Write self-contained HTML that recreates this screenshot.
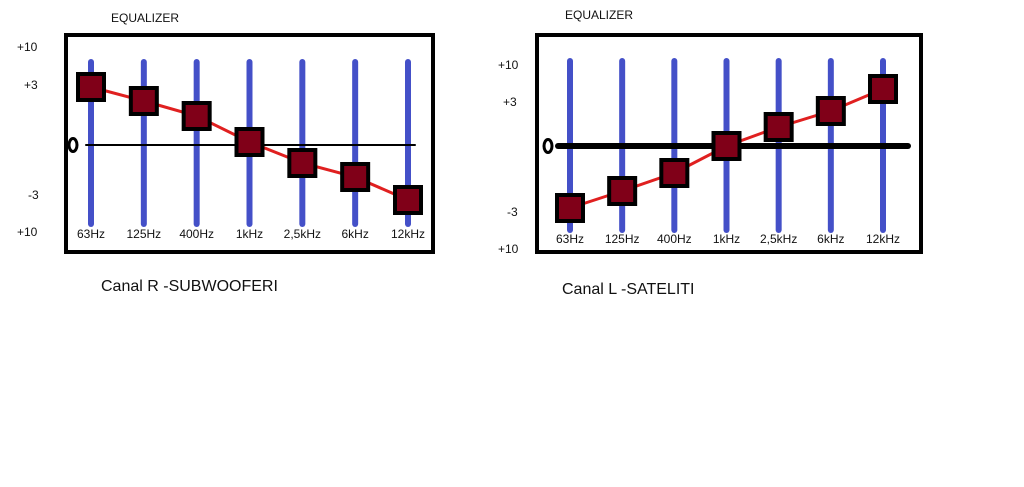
<!DOCTYPE html>
<html><head><meta charset="utf-8"><style>
html,body{margin:0;padding:0;background:#fff;width:1024px;height:487px;overflow:hidden}
svg{display:block}
text{font-family:"Liberation Sans",sans-serif;fill:#111}
</style></head><body>
<svg id="s" width="1024" height="487">
<text x="111" y="22" font-size="12">EQUALIZER</text>
<text x="565" y="19" font-size="12">EQUALIZER</text>
<rect x="66" y="35" width="367" height="217" fill="none" stroke="#000" stroke-width="4"/>
<rect x="537" y="35" width="384" height="217" fill="none" stroke="#000" stroke-width="4"/>
<text x="101" y="291" font-size="16">Canal R -SUBWOOFERI</text>
<text x="562" y="294" font-size="16">Canal L -SATELITI</text>
<g font-size="12">
<text x="17" y="51">+10</text><text x="24" y="89">+3</text><text x="28" y="199">-3</text><text x="17" y="236">+10</text>
</g>
<g font-size="12">
<text x="498" y="69">+10</text><text x="503" y="106">+3</text><text x="507" y="216">-3</text><text x="498" y="253">+10</text>
</g>
<g id="L"></g><g id="R"></g>
</svg>
<script>
const categories=["63Hz","125Hz","400Hz","1kHz","2,5kHz","6kHz","12kHz"];
const leftValues=[2.9,2.2,1.45,0.15,-0.9,-1.6,-2.75];
const rightValues=[-3.1,-2.25,-1.35,0,0.95,1.75,2.85];
const NS="http://www.w3.org/2000/svg";
function mk(parent,tag,attrs){const e=document.createElementNS(NS,tag);for(const k in attrs)e.setAttribute(k,attrs[k]);parent.appendChild(e);return e;}
function draw(gid,cfg,values,side){
  const g=document.getElementById(gid);
  const xs=i=>cfg.x0+i*(cfg.x1-cfg.x0)/(categories.length-1);
  const ys=v=>cfg.zero-v*cfg.scale;
  // zero label
  const zl=mk(g,"ellipse",{cx:cfg.zx,cy:cfg.zero,rx:4,ry:6.5,fill:"none",stroke:"#000","stroke-width":3});
  
  
  categories.forEach((c,i)=>{
    const b=mk(g,"line",{x1:xs(i),x2:xs(i),y1:cfg.top,y2:cfg.bot,stroke:"#4450c8","stroke-width":6,"stroke-linecap":"round"});
    
    
  });
  const z=mk(g,"line",{x1:cfg.zl0,x2:cfg.zl1,y1:cfg.zero,y2:cfg.zero,stroke:"#000","stroke-width":cfg.zw,"stroke-linecap":"round"});
  
  
  const pts=values.map((v,i)=>xs(i)+","+ys(v)).join(" ");
  const pl=mk(g,"polyline",{points:pts,fill:"none",stroke:"#e02020","stroke-width":3});
  
  
  values.forEach((v,i)=>{
    const r=mk(g,"rect",{x:xs(i)-13,y:ys(v)-13,width:26,height:26,fill:"#800018",stroke:"#000","stroke-width":4});
    
    
  });
  categories.forEach((c,i)=>{
    const t=mk(g,"text",{x:xs(i),y:cfg.ly,"font-size":12,"text-anchor":"middle"});
    t.textContent=c;
    
    
  });
}
draw("L",{x0:91,x1:408,zero:145,scale:20,top:62,bot:224,zx:73,zl0:86,zl1:415,zw:2,ly:238},leftValues,"left");
draw("R",{x0:570,x1:883,zero:146,scale:20,top:61,bot:230,zx:548,zl0:558,zl1:908,zw:6,ly:243},rightValues,"right");
</script>
</body></html>
